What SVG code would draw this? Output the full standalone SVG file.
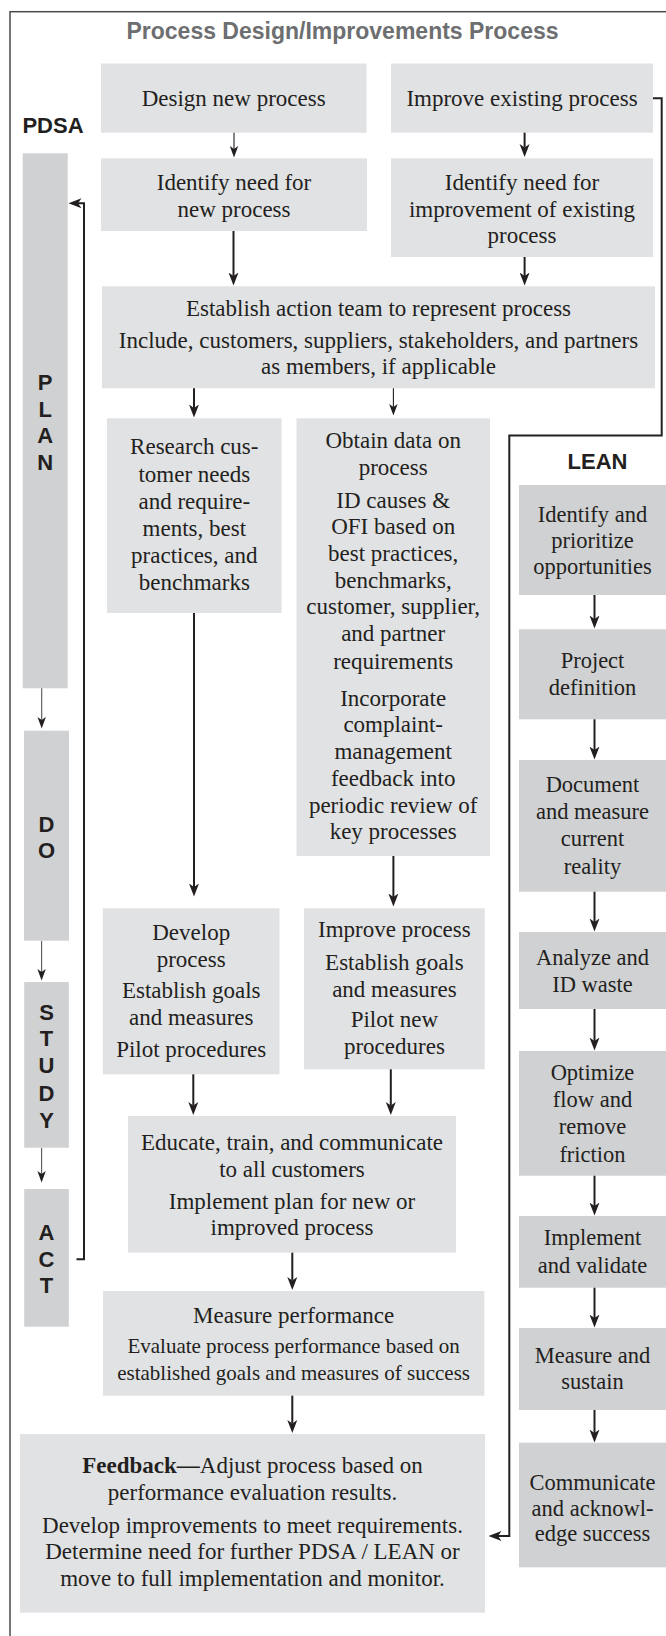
<svg xmlns="http://www.w3.org/2000/svg" width="666" height="1636" viewBox="0 0 666 1636">
  <style>
    .frame { fill: none; stroke: #4a4a4a; stroke-width: 1.5; }
    .box { fill: #e1e2e4; }
    .dark { fill: #d0d1d3; }
    .t { font-family: "Liberation Serif", "Times New Roman", serif; font-size: 23px; fill: #231f20; text-anchor: middle; }
    .tl { font-family: "Liberation Serif", "Times New Roman", serif; font-size: 22.5px; fill: #231f20; text-anchor: middle; }
    .ts { font-family: "Liberation Serif", "Times New Roman", serif; font-size: 21px; fill: #231f20; text-anchor: middle; }
    .title { font-family: "Liberation Sans", Arial, sans-serif; font-size: 23px; font-weight: bold; fill: #6d6e70; text-anchor: middle; }
    .hdr { font-family: "Liberation Sans", Arial, sans-serif; font-size: 22px; font-weight: bold; fill: #231f20; text-anchor: middle; }
    .lt { font-family: "Liberation Sans", Arial, sans-serif; font-size: 22px; font-weight: bold; fill: #231f20; text-anchor: middle; }
    .w { fill: none; stroke: #231f20; stroke-width: 2; }
    .n { fill: none; stroke: #231f20; stroke-width: 1.1; }
    .g { fill: none; stroke: #555; stroke-width: 1.1; }
  </style>
  <defs>
    <marker id="ah" markerUnits="userSpaceOnUse" markerWidth="14" markerHeight="11" refX="3.5" refY="5.5" orient="auto">
      <path d="M0,0.5 L13,5.5 L0,10.5 L3.5,5.5 Z" fill="#231f20"/>
    </marker>
    <marker id="ahs" markerUnits="userSpaceOnUse" markerWidth="12" markerHeight="10" refX="3" refY="5" orient="auto">
      <path d="M0,0.8 L11.5,5 L0,9.2 L3,5 Z" fill="#231f20"/>
    </marker>
  </defs>

  <rect class="frame" x="10" y="11.7" width="700" height="1700"/>
  <text class="title" x="342.5" y="39.3">Process Design/Improvements Process</text>

  <!-- PDSA column -->
  <g id="pdsa">
    <text class="hdr" x="53" y="133.3">PDSA</text>
    <g id="plan">
      <rect class="dark" x="22.7" y="153.3" width="45" height="535"/>
      <text class="lt" x="45.2" y="390">P</text>
      <text class="lt" x="45.2" y="416.7">L</text>
      <text class="lt" x="45.2" y="443.3">A</text>
      <text class="lt" x="45.2" y="470">N</text>
    </g>
    <g id="do">
      <rect class="dark" x="24" y="730.7" width="45" height="210"/>
      <text class="lt" x="46.5" y="831.7">D</text>
      <text class="lt" x="46.5" y="858.3">O</text>
    </g>
    <g id="study">
      <rect class="dark" x="24.2" y="982" width="44.6" height="165.7"/>
      <text class="lt" x="46.5" y="1020">S</text>
      <text class="lt" x="46.5" y="1046">T</text>
      <text class="lt" x="46.5" y="1073.3">U</text>
      <text class="lt" x="46.5" y="1100.5">D</text>
      <text class="lt" x="46.5" y="1127.7">Y</text>
    </g>
    <g id="act">
      <rect class="dark" x="24.2" y="1189" width="44.6" height="137.7"/>
      <text class="lt" x="46.5" y="1240">A</text>
      <text class="lt" x="46.5" y="1266.7">C</text>
      <text class="lt" x="46.5" y="1293.3">T</text>
    </g>
  </g>

  <!-- Process boxes -->
  <g id="design">
    <rect class="box" x="101" y="63.5" width="265.5" height="69.2"/>
    <text class="t" x="233.7" y="106">Design new process</text>
  </g>
  <g id="improve">
    <rect class="box" x="391" y="63.5" width="262" height="69.2"/>
    <text class="t" x="522" y="106">Improve existing process</text>
  </g>
  <g id="idnew">
    <rect class="box" x="101" y="158.3" width="266" height="72.7"/>
    <text class="t" x="234" y="190">Identify need for</text>
    <text class="t" x="234" y="216.7">new process</text>
  </g>
  <g id="idimp">
    <rect class="box" x="391" y="158.3" width="262" height="98.7"/>
    <text class="t" x="522" y="190">Identify need for</text>
    <text class="t" x="522" y="216.5">improvement of existing</text>
    <text class="t" x="522" y="243">process</text>
  </g>
  <g id="establish">
    <rect class="box" x="102" y="286.3" width="553" height="102"/>
    <text class="t" x="378.5" y="316">Establish action team to represent process</text>
    <text class="t" x="378.5" y="347.5">Include, customers, suppliers, stakeholders, and partners</text>
    <text class="t" x="378.5" y="374">as members, if applicable</text>
  </g>
  <g id="research">
    <rect class="box" x="107" y="418.3" width="174.6" height="194.7"/>
    <text class="t" x="194.3" y="454">Research cus-</text>
    <text class="t" x="194.3" y="481.5">tomer needs</text>
    <text class="t" x="194.3" y="508.5">and require-</text>
    <text class="t" x="194.3" y="535.7">ments, best</text>
    <text class="t" x="194.3" y="563">practices, and</text>
    <text class="t" x="194.3" y="590">benchmarks</text>
  </g>
  <g id="obtain">
    <rect class="box" x="296.5" y="418.3" width="193.5" height="437.7"/>
    <text class="t" x="393.2" y="447.7">Obtain data on</text>
    <text class="t" x="393.2" y="474.5">process</text>
    <text class="t" x="393.2" y="507.5">ID causes &amp;</text>
    <text class="t" x="393.2" y="533.5">OFI based on</text>
    <text class="t" x="393.2" y="560.7">best practices,</text>
    <text class="t" x="393.2" y="587.7">benchmarks,</text>
    <text class="t" x="393.2" y="614.3">customer, supplier,</text>
    <text class="t" x="393.2" y="641">and partner</text>
    <text class="t" x="393.2" y="668.5">requirements</text>
    <text class="t" x="393.2" y="705.5">Incorporate</text>
    <text class="t" x="393.2" y="732">complaint-</text>
    <text class="t" x="393.2" y="758.5">management</text>
    <text class="t" x="393.2" y="785.5">feedback into</text>
    <text class="t" x="393.2" y="812.5">periodic review of</text>
    <text class="t" x="393.2" y="839.3">key processes</text>
  </g>
  <g id="develop">
    <rect class="box" x="102.8" y="908.3" width="176.7" height="166"/>
    <text class="t" x="191.2" y="940">Develop</text>
    <text class="t" x="191.2" y="966.7">process</text>
    <text class="t" x="191.2" y="998.3">Establish goals</text>
    <text class="t" x="191.2" y="1025">and measures</text>
    <text class="t" x="191.2" y="1056.7">Pilot procedures</text>
  </g>
  <g id="improveproc">
    <rect class="box" x="304" y="908.3" width="180.7" height="161"/>
    <text class="t" x="394.4" y="936.7">Improve process</text>
    <text class="t" x="394.4" y="970">Establish goals</text>
    <text class="t" x="394.4" y="996.5">and measures</text>
    <text class="t" x="394.4" y="1026.7">Pilot new</text>
    <text class="t" x="394.4" y="1054">procedures</text>
  </g>
  <g id="educate">
    <rect class="box" x="128" y="1116" width="328" height="136.7"/>
    <text class="t" x="292" y="1150">Educate, train, and communicate</text>
    <text class="t" x="292" y="1176.7">to all customers</text>
    <text class="t" x="292" y="1209">Implement plan for new or</text>
    <text class="t" x="292" y="1235">improved process</text>
  </g>
  <g id="measure">
    <rect class="box" x="103" y="1291" width="381.3" height="104.7"/>
    <text class="t" x="293.6" y="1322.7">Measure performance</text>
    <text class="ts" x="293.6" y="1352.7">Evaluate process performance based on</text>
    <text class="ts" x="293.6" y="1380">established goals and measures of success</text>
  </g>
  <g id="feedback">
    <rect class="box" x="20" y="1434" width="465" height="178.7"/>
    <text class="t" x="252.5" y="1473.3"><tspan font-weight="bold">Feedback—</tspan>Adjust process based on</text>
    <text class="t" x="252.5" y="1500">performance evaluation results.</text>
    <text class="t" x="252.5" y="1532.7">Develop improvements to meet requirements.</text>
    <text class="t" x="252.5" y="1559.3">Determine need for further PDSA / LEAN or</text>
    <text class="t" x="252.5" y="1586">move to full implementation and monitor.</text>
  </g>

  <!-- LEAN column -->
  <g id="lean">
    <text class="hdr" x="597.5" y="469.3">LEAN</text>
    <g id="lean1">
      <rect class="dark" x="519" y="485" width="147" height="110"/>
      <text class="tl" x="592.5" y="521.5">Identify and</text>
      <text class="tl" x="592.5" y="547.5">prioritize</text>
      <text class="tl" x="592.5" y="573.8">opportunities</text>
    </g>
    <g id="lean2">
      <rect class="dark" x="519" y="629.3" width="147" height="90"/>
      <text class="tl" x="592.5" y="668.3">Project</text>
      <text class="tl" x="592.5" y="695">definition</text>
    </g>
    <g id="lean3">
      <rect class="dark" x="519" y="760" width="147" height="131.7"/>
      <text class="tl" x="592.5" y="791.7">Document</text>
      <text class="tl" x="592.5" y="819">and measure</text>
      <text class="tl" x="592.5" y="846">current</text>
      <text class="tl" x="592.5" y="873.5">reality</text>
    </g>
    <g id="lean4">
      <rect class="dark" x="519" y="932" width="147" height="77"/>
      <text class="tl" x="592.5" y="965">Analyze and</text>
      <text class="tl" x="592.5" y="991.7">ID waste</text>
    </g>
    <g id="lean5">
      <rect class="dark" x="519" y="1051" width="147" height="124.7"/>
      <text class="tl" x="592.5" y="1080">Optimize</text>
      <text class="tl" x="592.5" y="1107.3">flow and</text>
      <text class="tl" x="592.5" y="1134.3">remove</text>
      <text class="tl" x="592.5" y="1161.7">friction</text>
    </g>
    <g id="lean6">
      <rect class="dark" x="519" y="1216" width="147" height="71.7"/>
      <text class="tl" x="592.5" y="1245">Implement</text>
      <text class="tl" x="592.5" y="1272.7">and validate</text>
    </g>
    <g id="lean7">
      <rect class="dark" x="519" y="1328" width="147" height="82"/>
      <text class="tl" x="592.5" y="1362.7">Measure and</text>
      <text class="tl" x="592.5" y="1389.3">sustain</text>
    </g>
    <g id="lean8">
      <rect class="dark" x="519" y="1442.7" width="147" height="124.6"/>
      <text class="tl" x="592.5" y="1490" font-size="20.5">Communicate</text>
      <text class="tl" x="592.5" y="1515.7" font-size="20.5">and acknowl-</text>
      <text class="tl" x="592.5" y="1540.7" font-size="20.5">edge success</text>
    </g>
  </g>

  <!-- Connectors -->
  <g id="connectors">
    <path class="n" d="M234,132.7 V149" marker-end="url(#ahs)"/>
    <path class="w" d="M524.6,132.7 V147.5" marker-end="url(#ah)"/>
    <path class="w" d="M233.5,231 V276" marker-end="url(#ah)"/>
    <path class="w" d="M524.6,257 V276" marker-end="url(#ah)"/>
    <path class="w" d="M194,388.3 V408" marker-end="url(#ah)"/>
    <path class="n" d="M393.4,388.3 V407" marker-end="url(#ahs)"/>
    <path class="w" d="M194,613 V887" marker-end="url(#ah)"/>
    <path class="w" d="M393.4,856 V897" marker-end="url(#ah)"/>
    <path class="w" d="M193.3,1074.3 V1105.5" marker-end="url(#ah)"/>
    <path class="w" d="M390.8,1069.3 V1105.5" marker-end="url(#ah)"/>
    <path class="w" d="M292.3,1252.7 V1280.5" marker-end="url(#ah)"/>
    <path class="w" d="M292.3,1395.7 V1423.5" marker-end="url(#ah)"/>

    <path class="g" d="M41.7,688.3 V720" marker-end="url(#ahs)"/>
    <path class="g" d="M41.6,941 V972" marker-end="url(#ahs)"/>
    <path class="g" d="M41.6,1148 V1174" marker-end="url(#ahs)"/>

    <path class="w" d="M594.5,595 V619" marker-end="url(#ah)"/>
    <path class="w" d="M594.5,719.3 V750" marker-end="url(#ah)"/>
    <path class="w" d="M594.5,891.7 V922" marker-end="url(#ah)"/>
    <path class="w" d="M594.5,1009 V1041" marker-end="url(#ah)"/>
    <path class="w" d="M594.5,1175.7 V1206" marker-end="url(#ah)"/>
    <path class="w" d="M594.5,1287.7 V1318" marker-end="url(#ah)"/>
    <path class="w" d="M594.5,1410 V1433" marker-end="url(#ah)"/>

    <path class="w" d="M653,98.3 H661.7 V435.5 H509.3 V1536 H498" marker-end="url(#ah)"/>
    <path class="w" d="M76.5,1259.3 H84 V203.3 H78" marker-end="url(#ah)"/>
  </g>
</svg>
